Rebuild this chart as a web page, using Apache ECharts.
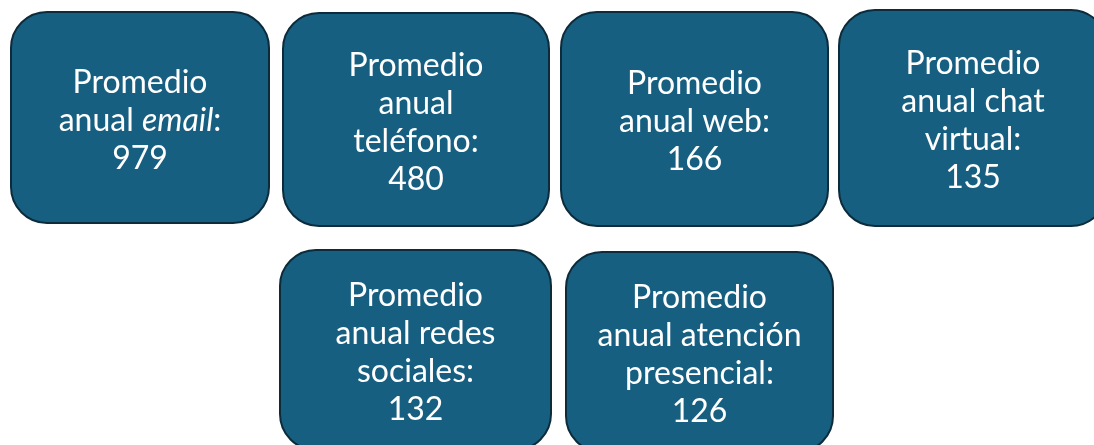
<!DOCTYPE html>
<html>
<head>
<meta charset="utf-8">
<script src="https://cdn.jsdelivr.net/npm/echarts@6/dist/echarts.min.js"></script>
<style>
  html, body { margin: 0; padding: 0; background: #fff; }
  #chart { width: 1094px; height: 445px; }
</style>
</head>
<body>
<div id="chart"></div>
<script>
// canales y promedios anuales
const channels = ["email", "teléfono", "web", "chat virtual", "redes sociales", "atención presencial"];
const averages = [979, 480, 166, 135, 132, 126];
// líneas del texto de cada caja (el valor se añade al final)
const labelLines = [
  ["Promedio", "{n|anual }{i|email}{n|:}"],
  ["Promedio", "anual", "teléfono:"],
  ["Promedio", "anual web:"],
  ["Promedio", "anual chat", "virtual:"],
  ["Promedio", "anual redes", "sociales:"],
  ["Promedio", "anual atención", "presencial:"]
];

// posición de cada caja: [x, y, ancho, alto]
const boxes = [
  [11, 12, 258, 211],
  [283, 13, 266, 213],
  [561, 12, 267, 214],
  [839, 10, 268, 216],
  [280, 250, 271, 200],
  [566, 252, 267, 200]
];

const fill = "#175f80";
const border = "#0c2b3b";
const font = "Lato";

const chart = echarts.init(document.getElementById("chart"), null, { renderer: "canvas" });

function wrapLine(l) {
  // líneas sin marcado rich se envuelven en {n|...}
  return l.indexOf("{") >= 0 ? l : "{n|" + l + "}";
}

const option = {
  animation: false,
  series: [
    {
      type: "custom",
      coordinateSystem: "none",
      data: averages.map((v, i) => ({ value: v, name: channels[i] })),
      renderItem(params, api) {
        const i = params.dataIndex;
        const b = boxes[i];
        const lines = labelLines[i].map(wrapLine);
        lines.push("{n|" + api.value(0) + "}");
        return {
          type: "group",
          children: [
            {
              type: "rect",
              shape: { x: b[0], y: b[1], width: b[2], height: b[3], r: 36 },
              style: { fill: fill, stroke: border, lineWidth: 2 }
            },
            {
              type: "text",
              x: b[0] + b[2] / 2,
              y: b[1] + b[3] / 2 + 3,
              style: {
                text: lines.join("\n"),
                align: "center",
                verticalAlign: "middle",
                fill: "#fff",
                rich: {
                  n: { fontFamily: font, fontSize: 32, lineHeight: 38, fill: "#fff" },
                  i: { fontFamily: font, fontSize: 32, lineHeight: 38, fontStyle: "italic", fill: "#fff" }
                }
              }
            }
          ]
        };
      }
    }
  ]
};

chart.setOption(option);
window.addEventListener("resize", () => chart.resize());
</script>
</body>
</html>
